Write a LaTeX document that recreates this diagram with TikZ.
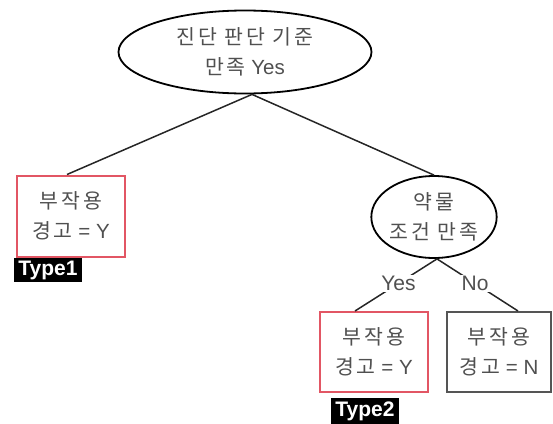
\documentclass[tikz,border=0pt]{standalone}
\usepackage{fontspec}
\setmainfont{Liberation Sans}
\newfontfamily\krfont{Noto Sans CJK KR}[LetterSpace=14]
\usetikzlibrary{shapes.geometric}
\definecolor{txtgray}{RGB}{80,80,80}
\definecolor{flagred}{RGB}{226,86,100}
\definecolor{boxgray}{RGB}{85,85,85}

\begin{document}
\begin{tikzpicture}[x=1pt,y=-1pt,
  every node/.style={font=\fontsize{20.5}{30}\selectfont, text=txtgray, align=center},
  decision/.style={ellipse, draw=black, line width=1.8pt, inner sep=0pt, fill=white},
  leaf/.style={rectangle, draw=flagred, line width=2pt, minimum width=108pt,
    minimum height=81pt, inner sep=0pt, fill=white},
  plainleaf/.style={leaf, draw=boxgray, minimum width=104pt},
  typetag/.style={fill=black, text=white, font=\bfseries\fontsize{21}{21}\selectfont,
    inner xsep=4pt, inner ysep=0pt, minimum height=24pt},
  branch/.style={line width=1.5pt, draw=black!85},
  answer/.style={fill=white, inner sep=1pt, font=\fontsize{21}{21}\selectfont}
]
\useasboundingbox (0,0) rectangle (553,423);

% decision nodes
\node[decision, minimum width=253pt, minimum height=83pt] (crit) at (245,52)
  {{\krfont 진단 판단 기준}\\{\krfont 만족} Yes};
\node[decision, minimum width=118pt, minimum height=82pt] (drug) at (434,217)
  {{\krfont 약물}\\{\krfont 조건 만족}};

% leaves
\node[leaf] (warn1) at (71,216) {{\krfont 부작용}\\{\krfont 경고} = Y};
\node[leaf, minimum height=80pt] (warn2) at (374,352) {{\krfont 부작용}\\{\krfont 경고} = Y};
\node[plainleaf, minimum height=80pt] (nowarn) at (499,352) {{\krfont 부작용}\\{\krfont 경고} = N};

% type tags
\node[typetag] (t1) at (48,270) {Type1};
\node[typetag, minimum height=26pt] (t2) at (365,411) {Type2};

% branches
\draw[branch] ([xshift=7pt]crit.south) -- ([xshift=-4pt]warn1.north);
\draw[branch] ([xshift=7pt]crit.south) -- (drug.north);
\draw[branch] ([xshift=3pt]drug.south) -- node[answer, pos=0.47] {Yes} ([xshift=-19pt]warn2.north);
\draw[branch] ([xshift=3pt]drug.south) -- node[answer, pos=0.47] {No} ([xshift=19pt]nowarn.north);
\end{tikzpicture}
\end{document}
